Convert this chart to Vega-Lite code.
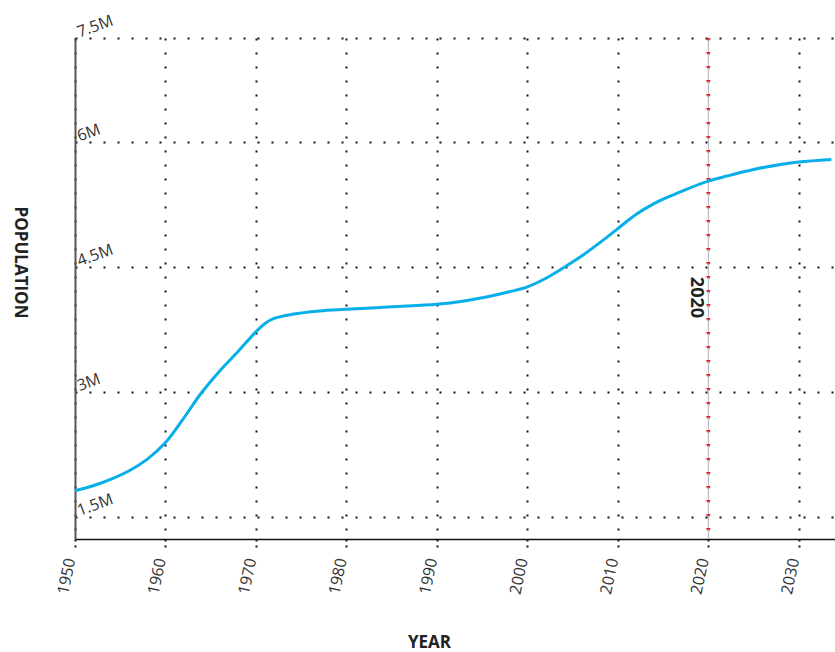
{
  "$schema": "https://vega.github.io/schema/vega-lite/v6.json",
  "width": 760,
  "height": 501,
  "autosize": {"type": "none"},
  "padding": {"left": 75, "top": 38, "right": 0, "bottom": 113},
  "background": "white",
  "config": {"view": {"stroke": null}, "font": "Open Sans"},
  "layer": [
    {
      "data": {"values": [{"year": 2020}]},
      "mark": {"type": "rule", "color": "#b3b3b3", "strokeWidth": 1},
      "encoding": {
        "x": {"field": "year", "type": "quantitative", "title": "YEAR"}
      }
    },
    {
      "data": {"values": [{"year": 2020}]},
      "mark": {"type": "rule", "color": "#ee1c25", "strokeWidth": 4, "strokeDash": [1.5, 12.5]},
      "encoding": {
        "x": {"field": "year", "type": "quantitative", "title": "YEAR"}
      }
    },
    {
      "data": {
        "values": [
          {"year": 1950, "pop": 1810000},
          {"year": 1952, "pop": 1870000},
          {"year": 1954, "pop": 1950000},
          {"year": 1956, "pop": 2050000},
          {"year": 1958, "pop": 2190000},
          {"year": 1960, "pop": 2390000},
          {"year": 1962, "pop": 2680000},
          {"year": 1964, "pop": 2990000},
          {"year": 1966, "pop": 3250000},
          {"year": 1968, "pop": 3480000},
          {"year": 1970, "pop": 3720000},
          {"year": 1971, "pop": 3820000},
          {"year": 1972, "pop": 3880000},
          {"year": 1974, "pop": 3930000},
          {"year": 1977, "pop": 3970000},
          {"year": 1980, "pop": 3990000},
          {"year": 1985, "pop": 4020000},
          {"year": 1990, "pop": 4050000},
          {"year": 1993, "pop": 4090000},
          {"year": 1996, "pop": 4150000},
          {"year": 1998, "pop": 4200000},
          {"year": 2000, "pop": 4260000},
          {"year": 2002, "pop": 4360000},
          {"year": 2004, "pop": 4490000},
          {"year": 2006, "pop": 4630000},
          {"year": 2008, "pop": 4790000},
          {"year": 2010, "pop": 4960000},
          {"year": 2012, "pop": 5130000},
          {"year": 2014, "pop": 5260000},
          {"year": 2016, "pop": 5360000},
          {"year": 2018, "pop": 5450000},
          {"year": 2020, "pop": 5530000},
          {"year": 2022, "pop": 5590000},
          {"year": 2025, "pop": 5670000},
          {"year": 2028, "pop": 5730000},
          {"year": 2030, "pop": 5760000},
          {"year": 2033.6, "pop": 5790000}
        ]
      },
      "mark": {"type": "line", "color": "#06aeea", "strokeWidth": 3, "interpolate": "catmull-rom"},
      "encoding": {
        "x": {
          "field": "year",
          "type": "quantitative",
          "title": "YEAR",
          "scale": {"domain": [1950, 2034], "nice": false, "zero": false},
          "axis": {
            "title": "YEAR",
            "values": [1950, 1960, 1970, 1980, 1990, 2000, 2010, 2020, 2030],
            "format": "d",
            "labelAngle": -78,
            "labelAlign": "right",
            "labelBaseline": "alphabetic",
            "labelPadding": 12,
            "labelFontSize": 16,
            "labelColor": "#333333",
            "labelFont": "Open Sans",
            "labelFlush": false,
            "labelOverlap": false,
            "domainColor": "#111111",
            "domainWidth": 1.5,
            "ticks": true,
            "tickColor": "#111111",
            "tickSize": 8,
            "tickWidth": 2,
            "tickDash": [2, 4],
            "grid": true,
            "gridColor": "#111111",
            "gridDash": [2, 12],
            "gridWidth": 2,
            "titleFont": "Open Sans",
            "titleFontSize": 17,
            "titleFontWeight": "bold",
            "titleColor": "#222222",
            "titleX": 354,
            "titleY": 103,
            "titleAlign": "center",
            "titleBaseline": "middle",
            "titleAngle": 0
          }
        },
        "y": {
          "field": "pop",
          "type": "quantitative",
          "title": "POPULATION",
          "scale": {"domain": [1230000, 7250000], "nice": false, "zero": false},
          "axis": {
            "title": "POPULATION",
            "values": [1500000, 3000000, 4500000, 6000000, 7250000],
            "labelExpr": "datum.value > 7000000 ? '7.5M' : format(datum.value / 1000000, '~g') + 'M'",
            "labelAngle": -20,
            "labelAlign": "left",
            "labelBaseline": "alphabetic",
            "labelPadding": -4,
            "labelOffset": -1,
            "labelFontSize": 16,
            "labelColor": "#333333",
            "labelFont": "Open Sans",
            "labelFlush": false,
            "labelOverlap": false,
            "ticks": false,
            "domainColor": "#555555",
            "domainWidth": 2,
            "grid": true,
            "gridColor": "#111111",
            "gridDash": [2, 12],
            "gridWidth": 2,
            "titleFont": "Open Sans",
            "titleFontSize": 17,
            "titleFontWeight": "bold",
            "titleColor": "#222222",
            "titleAngle": 90,
            "titleX": -56,
            "titleY": 224,
            "titleAlign": "center",
            "titleBaseline": "middle"
          }
        }
      }
    },
    {
      "data": {"values": [{"year": 2020, "pop": 4380000, "label": "2020"}]},
      "mark": {"type": "text", "angle": 90, "align": "left", "baseline": "top", "dy": 3, "fontSize": 18, "fontWeight": "bold", "color": "#222222", "font": "Open Sans"},
      "encoding": {
        "x": {"field": "year", "type": "quantitative", "title": "YEAR"},
        "y": {"field": "pop", "type": "quantitative", "title": "POPULATION"},
        "text": {"field": "label"}
      }
    }
  ]
}
